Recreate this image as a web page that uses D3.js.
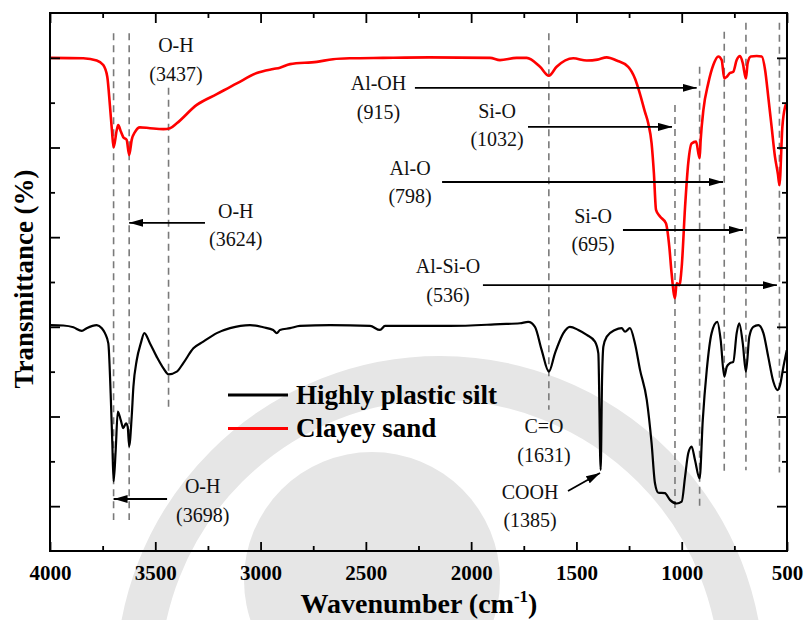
<!DOCTYPE html>
<html>
<head>
<meta charset="utf-8">
<script src="https://cdn.jsdelivr.net/npm/d3@7"></script>
<style>
  html, body { margin: 0; padding: 0; background: #fff; }
  svg text { font-family: "Liberation Serif", "DejaVu Serif", serif; }
</style>
</head>
<body>
<svg id="chart" width="805" height="620"></svg>
<script>
// FTIR spectra: wavenumber (cm^-1) vs. transmittance (arbitrary offset units)
const siltWn = [4000,3937,3889,3849,3826,3778,3754,3739,3723,3712,3704,3698,3688,3678,3664,3652,3639,3631,3624,3612,3604,3588,3569,3552,3525,3493,3462,3437,3398,3367,3319,3272,3208,3145,3050,2987,2940,2923,2908,2860,2813,2670,2480,2433,2409,2100,1863,1768,1729,1697,1665,1631,1602,1562,1531,1491,1451,1412,1396,1385,1378,1372,1356,1317,1285,1269,1246,1222,1198,1166,1143,1127,1111,1080,1056,1024,1000,984,969,953,937,915,900,881,858,831,815,798,786,771,755,739,727,710,695,679,660,636,612,589,565,545,533,517,501];
const siltT = [50.4,50.3,49.9,49.1,49.7,50.4,49.7,48.6,46.3,35.2,24.0,15.5,22.5,31.1,29.2,27.4,28.5,27.7,23.4,30.0,36.6,42.6,46.3,48.6,46.3,43.3,40.8,39.4,40.0,41.9,45.2,46.7,48.6,49.7,50.4,49.9,49.3,48.6,49.3,49.7,50.2,50.4,50.2,49.3,50.2,50.2,50.6,50.8,51.1,50.0,44.8,40.0,44.1,48.6,50.0,49.3,48.2,46.7,44.1,18.1,38.9,45.6,47.8,49.3,49.7,48.9,49.7,46.3,40.4,33.7,24.0,15.1,13.0,12.9,11.4,10.6,11.0,16.6,21.8,23.3,20.3,16.2,29.2,40.4,48.6,51.1,47.1,38.9,41.1,41.9,42.2,48.6,50.8,46.3,40.0,47.8,50.0,50.4,48.6,43.3,37.8,35.9,37.0,41.1,44.8];

const sandWn = [4000,3842,3778,3747,3728,3715,3706,3698,3683,3676,3663,3652,3636,3624,3612,3596,3573,3525,3462,3430,3398,3303,3208,3113,3018,2940,2908,2860,2733,2656,2575,2419,2200,1910,1863,1784,1736,1673,1631,1594,1515,1451,1400,1356,1309,1254,1222,1199,1175,1159,1143,1132,1122,1103,1075,1059,1048,1032,1024,1011,1000,984,969,953,932,915,910,897,874,850,826,810,798,786,771,755,739,723,710,695,687,672,644,620,604,589,573,557,543,536,522,509,501];
const sandT = [110.0,109.9,109.4,108.4,105.8,99.1,93.9,90.0,93.9,95.0,93.5,92.3,91.7,88.3,91.7,93.5,94.5,94.3,94.1,94.3,95.4,99.5,101.9,104.3,106.6,107.5,107.8,108.6,109.1,109.7,109.9,110.0,110.1,110.0,109.5,110.0,110.0,108.0,106.0,108.0,109.9,109.4,109.6,110.1,109.4,108.0,105.4,102.1,98.0,95.4,90.9,84.2,76.1,74.6,73.1,67.9,61.9,56.4,59.7,59.3,63.4,76.8,86.5,90.9,91.3,87.6,91.7,98.4,104.3,108.4,110.3,109.5,105.4,105.8,106.6,106.9,109.5,110.4,108.8,105.4,108.8,110.3,110.4,110.3,107.3,101.3,94.6,87.9,84.0,81.6,94.6,99.1,99.9];

const seriesNames = ["Highly plastic silt", "Clayey sand"];
const seriesColors = ["#000000", "#ff0000"];

// band assignments: guide line wavenumber and its vertical extent (transmittance units)
const bandWn   = [3698, 3624, 3437, 1631, 1032, 915, 798, 695, 536];
const bandTop  = [115.5, 115.5, 103.3, 115.5, 99.5, 108.0, 115.8, 117.8, 117.8];
const bandBot  = [6.9, 6.9, 31.7, 31.5, 9.0, 9.0, 17.0, 18.0, 17.5];

// labels: text lines, anchor (wavenumber, transmittance of first baseline)
const labelLines = [["O-H","(3437)"],["O-H","(3624)"],["O-H","(3698)"],["Al-OH","(915)"],["Si-O","(1032)"],["Al-O","(798)"],["Si-O","(695)"],["Al-Si-O","(536)"],["C=O","(1631)"],["COOH","(1385)"]];
const labelWn = [3402, 3118, 3275, 2440, 1877, 2290, 1421, 2110, 1654, 1720];
const labelT  = [111.3, 74.3, 12.9, 102.8, 96.6, 83.9, 73.2, 62.0, 26.3, 11.6];

// arrows: from (wn, T) to (wn, T)
const arrowFromWn = [3264, 3444, 2267, 1730, 2138, 1279, 1944, 1540];
const arrowToWn   = [3624, 3698, 929, 1046, 804, 709, 548, 1388];
const arrowFromT  = [73.2, 11.6, 103.3, 94.6, 82.3, 71.6, 59.3, 13.4];
const arrowToT    = [73.2, 11.6, 103.3, 94.6, 82.3, 71.6, 59.3, 17.4];

const xTicks = [4000, 3500, 3000, 2500, 2000, 1500, 1000, 500];
const xMinorTicks = [3750, 3250, 2750, 2250, 1750, 1250, 750];
const yMajorTicks = [10, 30, 50, 70, 90, 110];
const yMinorTicks = [20, 40, 60, 80, 100];

const FONT = "'Liberation Serif', 'DejaVu Serif', serif";
const W = 805, H = 620;
const margin = { top: 13, right: 18, bottom: 69, left: 50 };
const svg = d3.select("#chart");

// faint circular emblem in the background
const backdrop = svg.append("g").attr("fill", "none");
backdrop.append("circle").attr("cx", 440).attr("cy", 680).attr("r", 302)
  .attr("stroke", "#e6e6e6").attr("stroke-width", 44);
backdrop.append("circle").attr("cx", 372).attr("cy", 580).attr("r", 128)
  .attr("fill", "#e6e6e6");

const x = d3.scaleLinear().domain([4000, 500]).range([margin.left, W - margin.right]);
const y = d3.scaleLinear().domain([0, 120]).range([H - margin.bottom, margin.top]);

// guide lines
svg.append("g").selectAll("line").data(bandWn).join("line")
  .attr("x1", d => x(d)).attr("x2", d => x(d))
  .attr("y1", (d, i) => y(bandTop[i])).attr("y2", (d, i) => y(bandBot[i]))
  .attr("stroke", "#7a7a7a").attr("stroke-width", 1.6)
  .attr("stroke-dasharray", "7,5");

// spectra
const line = d3.line().x(d => x(d[0])).y(d => y(d[1])).curve(d3.curveMonotoneX);
const spectra = [d3.zip(siltWn, siltT), d3.zip(sandWn, sandT)];
svg.append("g").selectAll("path").data(spectra).join("path")
  .attr("d", line)
  .attr("fill", "none")
  .attr("stroke", (d, i) => seriesColors[i])
  .attr("stroke-width", (d, i) => i === 1 ? 2.6 : 2.2)
  .attr("stroke-linejoin", "round");

// arrow marker
svg.append("defs").append("marker")
  .attr("id", "head").attr("viewBox", "0 0 14 8")
  .attr("refX", 14).attr("refY", 4)
  .attr("markerWidth", 14).attr("markerHeight", 8)
  .attr("markerUnits", "userSpaceOnUse").attr("orient", "auto")
  .append("path").attr("d", "M0,0 L14,4 L0,8 Z").attr("fill", "#000");

svg.append("g").selectAll("line").data(arrowFromWn).join("line")
  .attr("x1", d => x(d)).attr("y1", (d, i) => y(arrowFromT[i]))
  .attr("x2", (d, i) => x(arrowToWn[i])).attr("y2", (d, i) => y(arrowToT[i]))
  .attr("stroke", "#000").attr("stroke-width", 1.8)
  .attr("marker-end", "url(#head)");

// band labels
const lbl = svg.append("g").attr("font-size", 20).attr("font-family", FONT)
  .attr("text-anchor", "middle").attr("fill", "#111");
labelLines.forEach((lines, i) => {
  const t = lbl.append("text").attr("font-family", FONT).attr("x", x(labelWn[i])).attr("y", y(labelT[i]));
  lines.forEach((s, j) => {
    t.append("tspan").attr("x", x(labelWn[i])).attr("dy", j === 0 ? 0 : 28.5).text(s);
  });
});

// legend
const legend = svg.append("g");
seriesNames.forEach((name, i) => {
  const ly = 395 + i * 33.5;
  legend.append("line").attr("x1", 228).attr("x2", 288).attr("y1", ly).attr("y2", ly)
    .attr("stroke", seriesColors[i]).attr("stroke-width", 3);
  legend.append("text").attr("x", 296).attr("y", ly + 8.5).attr("font-family", FONT)
    .attr("font-size", 27).attr("font-weight", "bold").text(name);
});

// axes
function styleAxis(g) {
  g.select(".domain").remove();
  g.attr("font-family", FONT);
  g.selectAll(".tick line").attr("stroke", "#000").attr("stroke-width", 1.8);
}
const bottom = svg.append("g").attr("transform", `translate(0,${H - margin.bottom})`)
  .call(d3.axisBottom(x).tickValues(xTicks).tickSizeInner(-9).tickSizeOuter(0).tickPadding(14).tickFormat(d3.format("d")))
  .call(styleAxis);
bottom.selectAll("text").attr("font-size", 21).attr("font-weight", "bold")
  .attr("font-family", FONT).attr("fill", "#000");
svg.append("g").attr("transform", `translate(0,${H - margin.bottom})`)
  .call(d3.axisBottom(x).tickValues(xMinorTicks).tickSizeInner(-5).tickSizeOuter(0).tickFormat(""))
  .call(styleAxis);
svg.append("g").attr("transform", `translate(0,${margin.top})`)
  .call(d3.axisTop(x).tickValues(xTicks).tickSizeInner(-10).tickSizeOuter(0).tickFormat(""))
  .call(styleAxis);
svg.append("g").attr("transform", `translate(0,${margin.top})`)
  .call(d3.axisTop(x).tickValues(xMinorTicks).tickSizeInner(-5).tickSizeOuter(0).tickFormat(""))
  .call(styleAxis);
[[yMajorTicks, 10], [yMinorTicks, 5]].forEach(([vals, len]) => {
  svg.append("g").attr("transform", `translate(${margin.left},0)`)
    .call(d3.axisLeft(y).tickValues(vals).tickSizeInner(-len).tickSizeOuter(0).tickFormat(""))
    .call(styleAxis);
  svg.append("g").attr("transform", `translate(${W - margin.right},0)`)
    .call(d3.axisRight(y).tickValues(vals).tickSizeInner(-len).tickSizeOuter(0).tickFormat(""))
    .call(styleAxis);
});

// frame
svg.append("rect")
  .attr("x", margin.left).attr("y", margin.top)
  .attr("width", W - margin.left - margin.right)
  .attr("height", H - margin.top - margin.bottom)
  .attr("fill", "none").attr("stroke", "#000").attr("stroke-width", 2);

// axis titles
const xt = svg.append("text").attr("x", 419).attr("y", 613).attr("font-family", FONT)
  .attr("text-anchor", "middle").attr("font-size", 28).attr("font-weight", "bold");
xt.append("tspan").text("Wavenumber (cm");
xt.append("tspan").attr("font-size", 17).attr("dy", -11).text("-1");
xt.append("tspan").attr("dy", 11).text(")");

svg.append("text").attr("font-family", FONT)
  .attr("transform", "translate(33,279) rotate(-90)")
  .attr("text-anchor", "middle").attr("font-size", 27).attr("font-weight", "bold")
  .text("Transmittance (%)");
</script>
</body>
</html>
